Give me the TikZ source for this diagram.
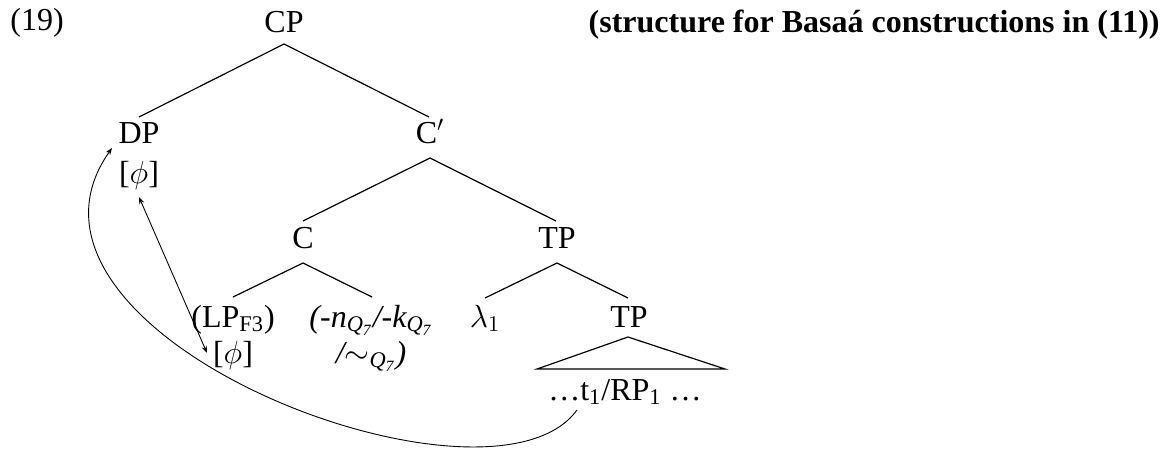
\RequirePackage{fix-cm}
\documentclass[tikz,border=0pt]{standalone}
\usepackage{fontspec}
\setmainfont{Liberation Serif}
\usetikzlibrary{arrows.meta}
\begin{document}
\begin{tikzpicture}[x=0.5pt,y=-0.5pt,
  lbl/.style={anchor=base,inner sep=0pt,font=\fontsize{16}{19}\selectfont},
  br/.style={line width=0.6pt},
  tipa/.tip={Stealth[length=3.5pt,width=2.6pt]},
  arr/.style={line width=0.45pt}]
\useasboundingbox (0,0) rectangle (1171,450);
% labels
\node[lbl,anchor=base west] (ex) at (10,30) {(19)};
\node[lbl] (cp) at (284,32) {CP};
\node[lbl,anchor=base east] (ttl) at (1160,32) {\bfseries (structure for Basaá constructions in (11))};
\node[lbl] (dp) at (139,143) {DP};
\node[lbl] (dpf) at (139,183) {[$\phi$]};
\node[lbl] (cbar) at (430,143) {C$'$};
\node[lbl] (c) at (303,248) {C};
\node[lbl] (tp) at (557,248) {TP};
\node[lbl] (lp) at (233,327) {(LP\textsubscript{F3})};
\node[lbl] (lpf) at (233,363) {[$\phi$]};
\node[lbl] (mk1) at (371,327) {\itshape (-n\textsubscript{Q\textsubscript{7}}/-k\textsubscript{Q\textsubscript{7}}};
\node[lbl] (mk2) at (371,363) {\itshape /$\sim$\textsubscript{Q\textsubscript{7}})};
\node[lbl] (lam) at (485,327) {$\lambda_1$};
\node[lbl] (tpb) at (629,327) {TP};
\node[lbl] (tr) at (625,400) {\ldots t\textsubscript{1}/RP\textsubscript{1} \ldots};
% branch points
\coordinate (cpS) at (284,44);
\coordinate (dpN) at (139,117);
\coordinate (cbN) at (429,117);
\coordinate (cbS) at (430,158);
\coordinate (cN) at (303,221);
\coordinate (tpN) at (556,221);
\coordinate (cS) at (303,263);
\coordinate (lpN) at (233,297);
\coordinate (mkN) at (372,297);
\coordinate (tpS) at (557,263);
\coordinate (lamN) at (485,298);
\coordinate (tpbN) at (628,298);
\coordinate (triA) at (628,337);
\coordinate (triL) at (537,369);
\coordinate (triR) at (725,369);
\coordinate (phiU) at (139,197);
\coordinate (phiL) at (207,353);
\coordinate (trS) at (577,410);
\coordinate (dpW) at (112,148);
% branches
\draw[br] (dpN) -- (cpS) -- (cbN);
\draw[br] (cN) -- (cbS) -- (tpN);
\draw[br] (lpN) -- (cS) -- (mkN);
\draw[br] (lamN) -- (tpS) -- (tpbN);
\draw[br] (triA) -- (triL) -- (triR) -- cycle;
% arrows
\draw[arr,tipa-tipa] (phiU) -- (phiL);
\draw[arr,-tipa] (trS) .. controls (490,530) and (-20,335) .. (dpW);
\end{tikzpicture}
\end{document}
